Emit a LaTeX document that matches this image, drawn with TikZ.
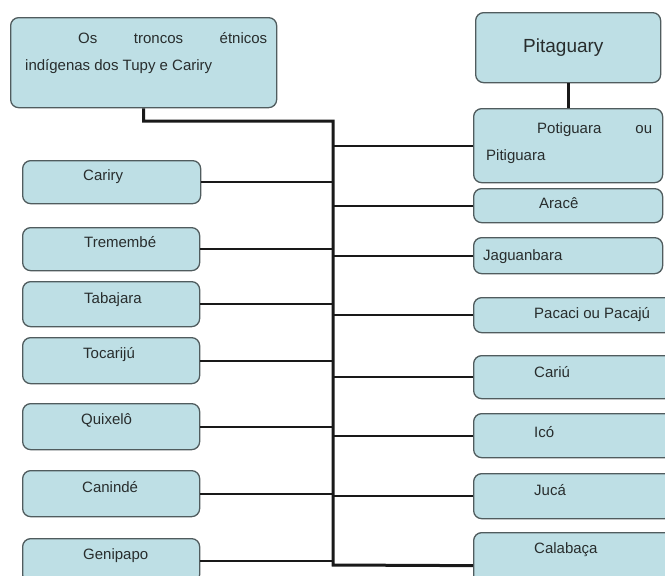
\documentclass[tikz,border=0pt]{standalone}
\usepackage{fontspec}
\setmainfont{Liberation Sans}
\definecolor{boxfill}{RGB}{190,223,229}
\definecolor{boxline}{RGB}{80,92,94}
\definecolor{linec}{RGB}{25,25,25}
\definecolor{txtc}{RGB}{40,45,45}
\newcommand{\mybox}[5]{\node[box, anchor=north west, minimum width={#4-#2}, minimum height={#5-#3}] (#1) at (#2,#3) {};}
\begin{document}
\begin{tikzpicture}[x=1pt,y=-1pt,
  box/.style={draw=boxline, line width=1.3pt, fill=boxfill, rounded corners=8pt, inner sep=0pt},
  lbl/.style={anchor=base west, inner sep=0pt, font=\fontsize{15}{18}\selectfont, text=txtc},
  conn/.style={draw=linec, line width=2pt},
  trunk/.style={draw=linec, line width=3pt}]
\clip (0,0) rectangle (665,576);
\fill[white] (0,0) rectangle (665,576);

% left column
\mybox{top}{10}{17}{276}{107}
\mybox{cariry}{22}{160}{200}{203}
\mybox{trem}{22}{227}{199}{270}
\mybox{taba}{22}{281}{199}{326}
\mybox{toca}{22}{337}{199}{383}
\mybox{quix}{22}{403}{199}{449}
\mybox{cani}{22}{470}{199}{516}
\mybox{geni}{22}{538}{199}{582}

% right column
\mybox{pita}{475}{12}{660}{82}
\mybox{poti}{473}{108}{662}{182}
\mybox{arace}{473}{188}{662}{222}
\mybox{jagu}{473}{237}{662}{273}
\mybox{paca}{473}{297}{672}{332}
\mybox{cariu}{473}{355}{672}{398}
\mybox{ico}{473}{413}{672}{457}
\mybox{juca}{473}{473}{672}{518}
\mybox{calab}{473}{532}{672}{598}

% texts
\node[lbl] (t-top1) at (25,43) {\makebox[242pt][l]{\hspace*{53pt}Os\hfill troncos\hfill étnicos}};
\node[lbl] (t-top2) at (25,70) {indígenas dos Tupy e Cariry};
\node[lbl] (t-cariry) at (83,180) {Cariry};
\node[lbl] (t-trem) at (84,247) {Tremembé};
\node[lbl] (t-taba) at (84,303) {Tabajara};
\node[lbl] (t-toca) at (83,358) {Tocarijú};
\node[lbl] (t-quix) at (81,424) {Quixelô};
\node[lbl] (t-cani) at (82,492) {Canindé};
\node[lbl] (t-geni) at (83,559) {Genipapo};

\node[lbl, font=\fontsize{19}{22}\selectfont] (t-pita) at (523,52) {Pitaguary};
\node[lbl] (t-poti1) at (486,133) {\makebox[166pt][l]{\hspace*{51pt}Potiguara\hfill ou}};
\node[lbl] (t-poti2) at (486,160) {Pitiguara};
\node[lbl] (t-arace) at (539,208) {Aracê};
\node[lbl] (t-jagu) at (483,260) {Jaguanbara};
\node[lbl] (t-paca) at (534,318) {Pacaci ou Pacajú};
\node[lbl] (t-cariu) at (534,377) {Cariú};
\node[lbl] (t-ico) at (534,437) {Icó};
\node[lbl] (t-juca) at (534,495) {Jucá};
\node[lbl] (t-calab) at (534,553) {Calabaça};

% trunk
\coordinate (ttop) at (333,121);
\coordinate (tbot) at (333,565);
\draw[trunk] (top.south) |- (ttop) -- (tbot) -- (calab.west);
\draw[trunk] (pita.south) -- (pita.south |- poti.north);

% left connectors
\foreach \n in {cariry,trem,taba,toca,quix,cani,geni}{
  \draw[conn] (\n.east) -- (\n.east -| ttop);
}
% right connectors
\foreach \n in {poti,arace,jagu,paca,cariu,ico,juca}{
  \draw[conn] (\n.west) -- (\n.west -| ttop);
}
\end{tikzpicture}
\end{document}
